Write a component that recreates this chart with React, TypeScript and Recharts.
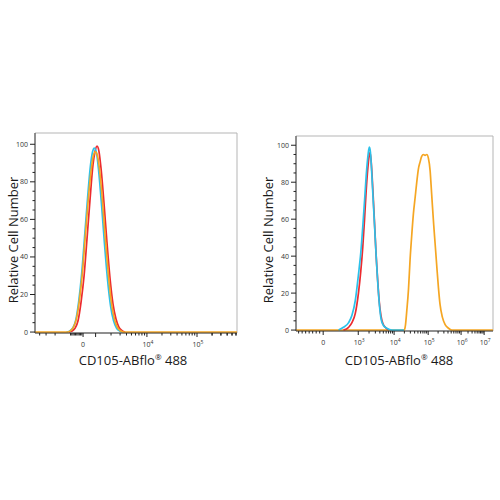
import React from "react";
import { LineChart, Line, XAxis, YAxis, ReferenceArea } from "recharts";

// x values are display channels (0-1000) of a biexponential axis
const leftRedX = [168, 183, 198, 213, 228, 243, 257, 272, 287, 297, 307, 317, 327, 342, 356, 371, 386, 401, 416, 431, 446];
const leftRedY = [0, 0.5, 2, 6, 16, 30, 49, 70, 89, 96, 99, 96, 87, 68, 48, 29, 15, 7, 2.5, 0.8, 0];
const leftCyanX = [156, 171, 186, 201, 216, 231, 245, 260, 275, 285, 294, 305, 315, 330, 344, 359, 374, 389, 404, 419, 434];
const leftCyanY = [0, 0.5, 2, 6, 16, 31, 50, 71, 89, 96, 98, 95, 86, 67, 47, 28, 14, 6, 2, 0.6, 0];
const leftOrangeX = [0, 160, 175, 190, 205, 220, 235, 249, 264, 279, 289, 299, 309, 319, 334, 348, 363, 378, 393, 408, 423, 438, 1000];
const leftOrangeY = [0, 0, 0.6, 2.5, 7, 17, 32, 51, 71, 87, 94, 96, 94, 87, 70, 50, 31, 16, 7, 2.5, 0.7, 0, 0];

const rightRedX = [241, 267, 284, 301, 317, 329, 339, 348, 356, 365, 371, 376, 381, 386, 393, 400, 407, 414, 422, 431, 441, 453, 470];
const rightRedY = [0, 1.5, 4, 9, 20, 32, 45, 60, 75, 88, 94, 96, 92, 84, 70, 55, 40, 28, 16, 8, 3.5, 1.5, 0];
const rightCyanX = [216, 241, 267, 284, 301, 317, 329, 339, 348, 356, 363, 370, 373, 378, 383, 388, 395, 402, 409, 416, 424, 432, 444, 461, 487, 548];
const rightCyanY = [0, 1.5, 4, 8, 16, 30, 42, 56, 70, 83, 92, 98, 99, 96, 88, 78, 64, 50, 36, 24, 13, 6, 2.5, 1, 0, 0];
const rightOrangeX = [0, 549, 556, 562, 571, 579, 588, 596, 605, 613, 621, 630, 638, 647, 655, 664, 672, 681, 686, 692, 699, 706, 715, 723, 731, 743, 757, 774, 791, 1000];
const rightOrangeY = [0, 0, 3, 10, 22, 38, 52, 63, 72, 80, 87, 91, 94, 95, 94.5, 95, 93, 86, 78, 68, 57, 47, 34, 23, 14, 7, 3, 1, 0, 0];

const leftDecadeValues = [0, 1e3, 1e4, 1e5];
const leftDecadeChannels = [238, 300, 554, 802];
const leftTickLabels = ["0", "", "4", "5"];

const rightDecadeValues = [0, 1e3, 1e4, 1e5, 1e6, 1e7];
const rightDecadeChannels = [138, 316, 498, 671, 838, 955];
const rightTickLabels = ["0", "3", "4", "5", "6", "7"];

const yTicks = [0, 5, 10, 15, 20, 25, 30, 35, 40, 45, 50, 55, 60, 65, 70, 75, 80, 85, 90, 95, 100];

const RED = "#ec2b2f";
const CYAN = "#2cc1ea";
const ORANGE = "#f5a623";
const FONT = "'Open Sans', 'DejaVu Sans', sans-serif";

const zip = (xs: number[], ys: number[]) => xs.map((x, i) => ({ x, y: ys[i] }));

// position of a raw value on the display axis
function channelOf(v: number, values: number[], chans: number[]) {
  const c0 = chans[0];
  const a = Math.abs(v);
  const s = v < 0 ? -1 : 1;
  if (a <= 1e3) return c0 + ((chans[1] - c0) * v) / 1e3;
  const k = Math.floor(Math.log10(a));
  const i = values.indexOf(Math.pow(10, k));
  const last = chans.length - 1;
  const lo = i >= 0 ? chans[i] : chans[last];
  const hi = i >= 0 && i + 1 <= last ? chans[i + 1] : lo + (chans[last] - chans[last - 1]);
  return c0 + s * (lo - c0 + (hi - lo) * Math.log10(a / Math.pow(10, k)));
}

function buildTicks(values: number[], chans: number[]) {
  const minor: number[] = [];
  for (let v = 100; v < 1000; v += 100) minor.push(channelOf(-v, values, chans));
  for (let k = 3; k < 7; k++) {
    for (let m = 2; m < 10; m++) {
      minor.push(channelOf(m * Math.pow(10, k), values, chans));
      minor.push(channelOf(-m * Math.pow(10, k), values, chans));
    }
  }
  minor.push(channelOf(-1e3, values, chans));
  return {
    all: [...chans, ...minor].filter((c) => c >= 0 && c <= 1000),
    majors: chans,
  };
}

const XTick = (props: any) => {
  const { x, y, payload, majors, labels } = props;
  const idx = majors.findIndex((c: number) => Math.abs(c - payload.value) < 0.01);
  const isMajor = idx >= 0;
  const lab = isMajor ? labels[idx] : "";
  return (
    <g>
      <line x1={x} x2={x} y1={y} y2={y + (isMajor ? 4 : 2.5)} stroke="#222" strokeWidth={1} />
      {lab === "0" && (
        <text x={x} y={y + 14} textAnchor="middle" fontSize={7} fill="#333" fontFamily={FONT}>
          0
        </text>
      )}
      {lab !== "" && lab !== "0" && (
        <text x={x + 1} y={y + 14} textAnchor="middle" fontSize={7} fill="#333" fontFamily={FONT}>
          10
          <tspan dy={-3} fontSize={5}>
            {lab}
          </tspan>
        </text>
      )}
    </g>
  );
};

const YTick = (props: any) => {
  const { x, y, payload } = props;
  const major = payload.value % 20 === 0;
  return (
    <g>
      <line x1={x - (major ? 5 : 2.5)} x2={x} y1={y} y2={y} stroke="#222" strokeWidth={1} />
      {major && (
        <text x={x - 7} y={y + 2.5} textAnchor="end" fontSize={7} fill="#333" fontFamily={FONT}>
          {payload.value}
        </text>
      )}
    </g>
  );
};

type Series = { color: string; points: { x: number; y: number }[] };

function Panel(props: {
  left: number;
  yAxisWidth: number;
  margin: { top: number; right: number; bottom: number; left: number };
  yMax: number;
  decadeValues: number[];
  decadeChannels: number[];
  tickLabels: string[];
  series: Series[];
  yLabelX: number;
  xLabelX: number;
}) {
  const { all, majors } = buildTicks(props.decadeValues, props.decadeChannels);
  return (
    <div style={{ position: "absolute", left: props.left, top: 0 }}>
      <LineChart width={250} height={400} margin={props.margin}>
        <XAxis
          dataKey="x"
          type="number"
          domain={[0, 1000]}
          ticks={all}
          interval={0}
          allowDataOverflow
          tickSize={0}
          tickMargin={0}
          height={40}
          axisLine={{ stroke: "#444" }}
          tick={(p: any) => <XTick {...p} majors={majors} labels={props.tickLabels} />}
          label={{
            content: () => (
              <text x={props.xLabelX} y={365} textAnchor="middle" fontSize={13} fill="#1a1a1a" fontFamily={FONT}>
                CD105-ABflo
                <tspan dy={-5} fontSize={8}>
                  ®
                </tspan>
                <tspan dy={5}> 488</tspan>
              </text>
            ),
          }}
        />
        <YAxis
          type="number"
          domain={[-0.5, props.yMax]}
          ticks={yTicks}
          interval={0}
          allowDataOverflow
          width={props.yAxisWidth}
          tickSize={0}
          tickMargin={0}
          axisLine={{ stroke: "#444" }}
          tick={(p: any) => <YTick {...p} />}
          label={{
            content: () => (
              <text
                x={props.yLabelX}
                y={240}
                textAnchor="middle"
                dominantBaseline="central"
                transform={`rotate(-90 ${props.yLabelX} 240)`}
                fontSize={13}
                fill="#1a1a1a"
                fontFamily={FONT}
              >
                Relative Cell Number
              </text>
            ),
          }}
        />
        <ReferenceArea x1={0} x2={1000} y1={-0.5} y2={props.yMax} fill="none" stroke="#b5b5b5" strokeWidth={1} />
        {props.series.map((s, i) => (
          <Line
            key={i}
            data={s.points}
            dataKey="y"
            type="monotone"
            stroke={s.color}
            strokeWidth={1.7}
            dot={false}
            activeDot={false}
            isAnimationActive={false}
          />
        ))}
      </LineChart>
    </div>
  );
}

export default function App() {
  return (
    <div style={{ position: "absolute", left: 0, top: 0, width: 500, height: 500, background: "#fff" }}>
      <Panel
        left={0}
        yAxisWidth={35}
        margin={{ top: 133, right: 13, bottom: 27, left: 0 }}
        yMax={106}
        decadeValues={leftDecadeValues}
        decadeChannels={leftDecadeChannels}
        tickLabels={leftTickLabels}
        yLabelX={13}
        xLabelX={133}
        series={[
          { color: RED, points: zip(leftRedX, leftRedY) },
          { color: CYAN, points: zip(leftCyanX, leftCyanY) },
          { color: ORANGE, points: zip(leftOrangeX, leftOrangeY) },
        ]}
      />
      <Panel
        left={250}
        yAxisWidth={46}
        margin={{ top: 136, right: 7, bottom: 29, left: 0 }}
        yMax={105}
        decadeValues={rightDecadeValues}
        decadeChannels={rightDecadeChannels}
        tickLabels={rightTickLabels}
        yLabelX={18}
        xLabelX={149}
        series={[
          { color: ORANGE, points: zip(rightOrangeX, rightOrangeY) },
          { color: RED, points: zip(rightRedX, rightRedY) },
          { color: CYAN, points: zip(rightCyanX, rightCyanY) },
        ]}
      />
    </div>
  );
}
